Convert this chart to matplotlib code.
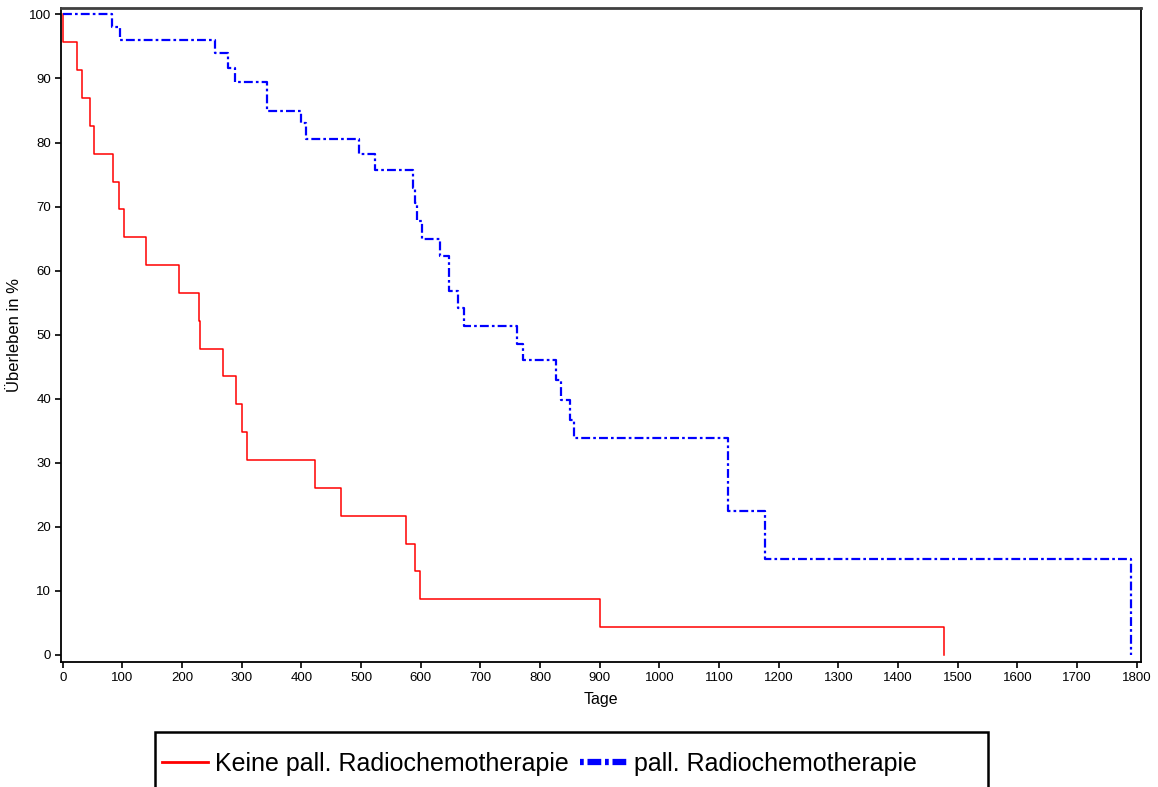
import matplotlib
matplotlib.use("Agg")
import matplotlib.pyplot as plt
from matplotlib.lines import Line2D
from matplotlib.patches import Rectangle

plt.rcParams.update({
    "font.family": ["Liberation Sans", "DejaVu Sans"],
    "font.size": 9.5,
})

RED = "#ff0000"
BLUE = "#0000ff"

# Kaplan-Meier steps (days, survival %)
red_days = [0, 1, 23, 32, 45, 53, 84, 94, 103, 140, 194, 228, 230, 269, 291,
            301, 308, 423, 467, 575, 591, 599, 900, 1477]
red_surv = [100, 95.65, 91.3, 86.96, 82.61, 78.26, 73.91, 69.57, 65.22, 60.87,
            56.52, 52.17, 47.83, 43.48, 39.13, 34.78, 30.43, 26.09, 21.74,
            17.39, 13.04, 8.70, 4.35, 0]

blue_days = [0, 83, 96, 255, 277, 289, 343, 399, 408, 496, 524, 587, 591, 594,
             602, 632, 647, 662, 673, 762, 771, 827, 835, 850, 856, 1115, 1177,
             1791]
blue_surv = [100, 98.0, 96.0, 94.0, 91.7, 89.5, 85.0, 83.0, 80.6, 78.2, 75.7,
             72.9, 70.5, 67.8, 65.0, 62.3, 56.9, 54.1, 51.3, 48.6, 46.1, 42.9,
             39.8, 36.7, 33.8, 22.5, 15.0, 0]

labels = ["Keine pall. Radiochemotherapie", "pall. Radiochemotherapie"]
x_ticks = list(range(0, 1801, 100))
y_ticks = list(range(0, 101, 10))

fig = plt.figure(figsize=(11.58, 7.87), dpi=100)
ax = fig.add_axes([0.0527, 0.1588, 0.9326, 0.831])

ax.step(red_days, red_surv, where="post", color=RED, lw=1.1)
ax.step(blue_days, blue_surv, where="post", color=BLUE, lw=1.6,
        dashes=(4, 1.4, 1.2, 1.4))

ax.set_xlim(-3, 1807)
ax.set_ylim(-1.1, 101)
ax.set_xticks(x_ticks)
ax.set_yticks(y_ticks)
ax.tick_params(direction="out", length=4, width=1.2, labelsize=9.5, pad=3)
for s in ["left", "bottom", "right"]:
    ax.spines[s].set_linewidth(1.3)
ax.spines["top"].set_color("#404040")
ax.spines["top"].set_linewidth(2)

ax.set_xlabel("Tage", fontsize=11.5, labelpad=6)
ax.set_ylabel("Überleben in %", fontsize=12, labelpad=5)

# legend box, open at the bottom edge of the picture
fig.patches.append(Rectangle((155 / 1158, -0.05), (988 - 155) / 1158,
                             0.05 + 1 - 732 / 787, transform=fig.transFigure,
                             fill=False, edgecolor="black", lw=1.8))
handles = [Line2D([], [], color=RED, lw=2),
           Line2D([], [], color=BLUE, lw=4.5, dashes=(0.6, 0.6, 2.2, 0.6))]
leg = fig.legend(handles, labels, loc="center left",
                 bbox_to_anchor=(162 / 1158, 1 - 764 / 787),
                 ncol=2, frameon=False, fontsize=18,
                 handlelength=1.85, handletextpad=0.28, columnspacing=0.45,
                 borderpad=0, borderaxespad=0)

fig.savefig("out.png", dpi=100)
